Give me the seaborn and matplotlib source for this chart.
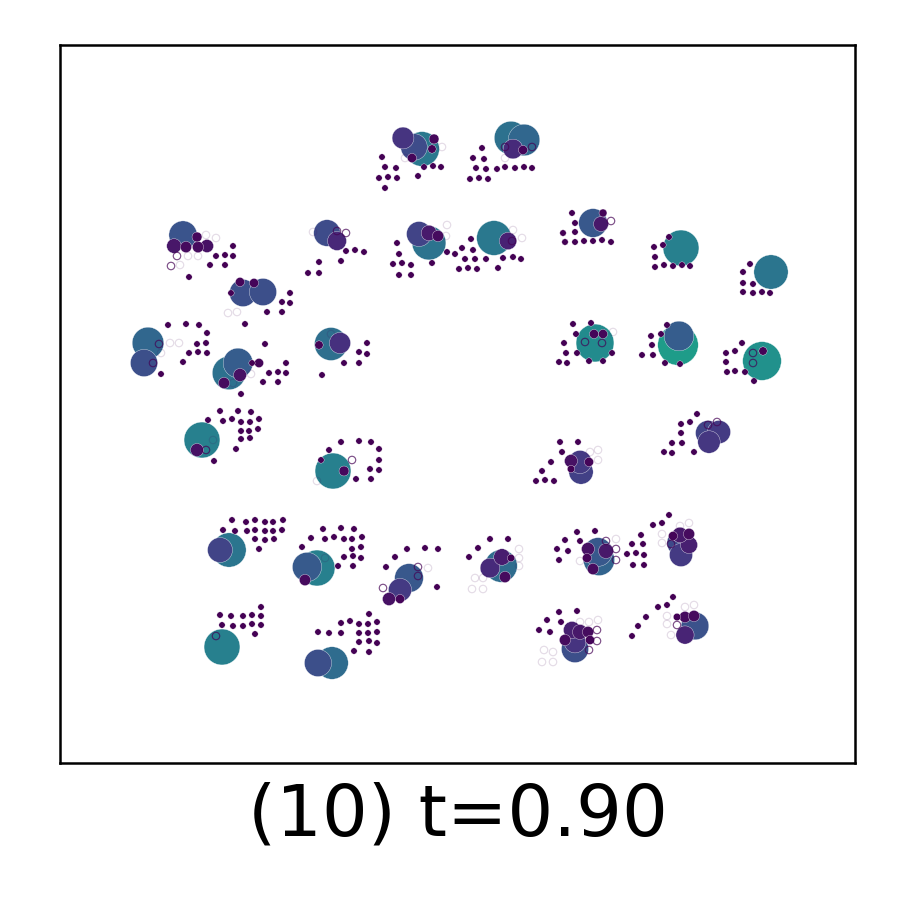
import numpy as np
import pandas as pd
import matplotlib
matplotlib.use("Agg")
import matplotlib.pyplot as plt
import seaborn as sns

# weighted particles (x, y in picture pixels, v = weight -> colour and size)
big_x = [183, 174, 186, 197, 198, 207,   243, 263, 240, 254,   327, 337,
         403, 422, 414, 434, 432, 412,   511, 524, 513, 523,   419, 429, 429, 438,
         494, 508,   593, 601, 603,   681,   771,   148, 144,
         229, 238, 224, 240, 259,   331, 340, 319,   202, 197,   333, 344,
         595, 594, 603,   678, 679,   762, 763,
         580, 581, 571, 589, 571,   708, 719, 709,   220, 229,   307, 317, 305,
         409, 400, 389, 400,   222,   318, 332,
         501, 490, 502, 505, 511,   598, 599, 588, 606, 587, 593,
         680, 689, 689, 673, 680, 681,   575, 572, 580, 588, 565, 590, 575,
         695, 685, 685, 694, 677]
big_y = [235, 246, 247, 237, 247, 246,   293, 292, 282, 283,   233, 241,
         138, 149, 147, 139, 149, 158,   138, 140, 149, 150,   234, 243, 233, 236,
         238, 241,   223, 224, 213,   248,   272,   343, 363,
         373, 363, 383, 375, 363,   344, 343, 345,   440, 450,   471, 471,
         343, 334, 334,   345, 336,   361, 351,
         462, 472, 461, 462, 469,   433, 432, 442,   550, 550,   567, 568, 580,
         578, 590, 599, 599,   647,   663, 663,
         566, 568, 557, 577, 558,   552, 560, 549, 551, 558, 569,
         535, 534, 545, 536, 543, 555,   649, 630, 632, 632, 640, 640, 642,
         626, 635, 617, 616, 617]
big_v = [.26, .06, .03, .02, .03, .045,   .24, .24, .015, .015,   .23, .11,
         .15, .40, .23, .02, .01, .015,   .37, .33, .12, .015,   .20, .38, .07, .03,
         .40, .09,   .27, .064, .008,   .43,   .39,   .33, .24,
         .37, .29, .03, .045, .015,   .36, .14, .01,   .43, .045,   .43, .02,
         .48, .015, .015,   .55, .29,   .50, .01,
         .17, .19, .045, .015, .005,   .20, .17, .16,   .20, .39,   .28, .43, .03,
         .27, .17, .045, .015,   .43,   .24, .35,
         .35, .12, .08, .03, .005,   .27, .32, .045, .064, .015, .03,
         .07, .03, .087, .015, .22, .17,   .24, .087, .064, .03, .03, .015, .15,
         .25, .10, .03, .03, .005]

# tiny particles (weight 0)
dot_x = [233, 216, 225, 233, 210, 225, 189,
         231, 290, 282, 290, 267, 282, 245,
         346, 319, 341, 308, 319, 355, 364,
         382, 385, 396, 379, 388, 397, 385, 424, 433, 441, 418,
         482, 473, 484, 476, 486, 497, 505, 515, 524, 532, 470, 479, 488,
         397, 399, 393, 402, 411, 399, 411, 432, 447, 455,
         471, 462, 473, 465, 475, 486, 503, 513, 521, 459, 468, 477, 498,
         572, 575, 563, 575, 565, 575, 584, 593, 602, 611, 563, 565,
         669, 663, 654, 655, 655, 664, 673, 682, 690,
         750, 743, 743, 753, 743, 753, 762, 770,
         168, 186, 199, 207, 197, 206, 189, 198, 207, 183, 161,
         252, 265, 286, 269, 278, 286, 263, 278, 241,
         367, 359, 367, 344, 359, 322,
         220, 238, 251, 208, 223, 232, 241, 250, 259, 241, 249, 258, 241, 250, 236, 214,
         341, 359, 371, 329, 379, 321, 379, 370, 379, 356, 371,
         573, 591, 576, 564, 566, 577, 559, 567, 589, 603, 612,
         667, 651, 661, 652, 642, 653, 665, 680,
         742, 726, 735, 726, 727, 735, 745, 754,
         560, 578, 562, 551, 542, 536, 545, 554,
         697, 681, 690, 681, 672, 682, 664, 672, 694,
         232, 246, 255, 265, 273, 283, 223, 235, 247, 255, 265, 273, 282, 255, 265, 274, 259,
         323, 341, 354, 311, 325, 334, 344, 352, 362, 302, 352, 361, 344, 353, 361, 338, 353,
         407, 425, 438, 395, 386, 437,
         261, 220, 231, 243, 252, 261, 222, 233, 243, 252, 261, 255,
         369, 341, 350, 359, 368, 377, 318, 329, 341, 359, 368, 377, 359, 369, 377, 354, 369,
         490, 508, 478, 469,
         577, 595, 565, 580, 557, 568, 559, 641, 632, 643, 627, 636, 644, 633, 644,
         669, 653, 662,
         559, 577, 547, 561, 539, 550,
         673, 658, 667, 646, 638, 632]
dot_y = [246, 256, 255, 256, 265, 265, 277,
         293, 293, 302, 303, 312, 312, 324,
         251, 262, 261, 273, 273, 250, 252,
         157, 167, 168, 178, 177, 178, 188, 167, 166, 167, 176,
         148, 158, 159, 168, 169, 169, 167, 168, 167, 168, 179, 178, 179,
         243, 254, 264, 263, 265, 275, 275, 263, 252, 254,
         239, 248, 250, 259, 259, 259, 258, 257, 259, 269, 268, 269, 268,
         213, 223, 233, 232, 242, 242, 241, 241, 240, 242, 233, 242,
         237, 245, 247, 257, 267, 265, 266, 265, 266,
         264, 272, 283, 284, 292, 293, 292, 293,
         325, 324, 325, 333, 344, 343, 353, 352, 353, 362, 374,
         363, 344, 363, 373, 372, 373, 382, 382, 394,
         343, 352, 354, 363, 363, 375,
         411, 411, 412, 420, 421, 419, 422, 422, 419, 431, 431, 429, 439, 438, 449, 461,
         442, 441, 442, 450, 449, 460, 460, 469, 470, 479, 479,
         324, 323, 334, 343, 353, 353, 362, 363, 361, 361, 353,
         325, 336, 334, 345, 355, 355, 363, 364,
         343, 353, 351, 362, 372, 371, 372, 381,
         442, 442, 452, 462, 471, 481, 480, 481,
         414, 424, 422, 433, 443, 443, 452, 453, 452,
         520, 522, 520, 522, 522, 520, 530, 531, 531, 530, 531, 531, 530, 539, 540, 539, 549,
         529, 528, 529, 538, 539, 537, 539, 539, 537, 547, 549, 547, 557, 556, 558, 566, 566,
         549, 548, 549, 557, 567, 587,
         607, 615, 616, 616, 615, 616, 625, 626, 626, 624, 625, 634,
         614, 623, 621, 624, 624, 622, 632, 633, 633, 633, 633, 632, 642, 641, 643, 651, 652,
         539, 539, 548, 557,
         532, 531, 540, 541, 549, 551, 560, 535, 544, 544, 554, 553, 555, 565, 565,
         515, 525, 523,
         612, 611, 620, 622, 630, 632,
         597, 607, 605, 617, 626, 636]

# empty rings (1 = dark outline, 0 = faint outline)
ring_x = [177, 171, 188, 198, 206, 216, 180,   228, 237,   337, 346, 313,
          442, 405,   505, 532, 505,   447, 446,   512, 513, 522,   611,
          159, 153, 170, 179, 161,   233, 251,   331,   206, 213,   352, 317,
          585, 602, 613,   753, 753,   590, 598, 598,   708, 717,   325,
          418, 418, 383, 428,   216,
          519, 519, 519, 483, 475, 472, 483,   606, 616, 616, 616, 580,
          671, 680, 689, 662, 662,
          597, 597, 589, 598, 589, 580, 544, 553, 542, 553,
          677, 685, 694, 667, 667, 671]
ring_y = [256, 266, 256, 256, 235, 238, 265,   313, 312,   231, 233, 232,
          147, 158,   147, 147, 158,   225, 236,   241, 230, 238,   221,
          344, 363, 343, 343, 353,   383, 374,   334,   450, 440,   460, 481,
          342, 343, 332,   353, 363,   452, 450, 460,   425, 422,   558,
          567, 576, 588, 568,   636,
          549, 558, 566, 578, 578, 589, 589,   541, 549, 560, 539, 561,
          544, 526, 523, 534, 543,
          630, 641, 650, 620, 622, 622, 650, 652, 662, 662,
          625, 607, 605, 616, 624, 635]
ring_dark = [1, 1, 0, 0, 0, 0, 0,   0, 0,   1, 1, 0,
             0, 0,   1, 1, 0,   0, 0,   1, 0, 0,   1,
             1, 1, 0, 0, 0,   0, 0,   0,   1, 0,   1, 0,
             1, 1, 0,   1, 1,   0, 0, 0,   1, 1,   0,
             1, 1, 1, 0,   1,
             0, 0, 0, 0, 0, 0, 0,   1, 1, 1, 0, 0,
             1, 0, 0, 0, 0,
             1, 1, 1, 0, 0, 0, 0, 0, 0, 0,
             1, 0, 0, 0, 0, 0]

pts = pd.concat([
    pd.DataFrame({"x": big_x, "y": big_y, "v": big_v}),
    pd.DataFrame({"x": dot_x, "y": dot_y, "v": 0.0}),
], ignore_index=True)
pts = pts.sort_values("v", ascending=False, kind="stable")
rings = pd.DataFrame({"x": ring_x, "y": ring_y, "dark": ring_dark})

fig = plt.figure(figsize=(3, 3), dpi=300)
ax = fig.add_axes([60 / 900, 137 / 900, 795 / 900, 718 / 900])

sns.scatterplot(data=pts, x="x", y="y", hue="v", size="v", palette="viridis",
                hue_norm=(0, 1), sizes=(2.3, 96), size_norm=(0, 0.56),
                edgecolor="white", linewidth=0.08, legend=False, ax=ax)

# outlined particles
for dark, alpha in [(0, 0.14), (1, 0.7)]:
    sub = rings[rings["dark"] == dark]
    sns.scatterplot(data=sub, x="x", y="y", s=3.2, facecolor="none",
                    edgecolor="#440154", linewidth=0.28, alpha=alpha,
                    legend=False, ax=ax)

ax.set_xlim(60, 855)
ax.set_ylim(763, 45)
ax.set_xticks([])
ax.set_yticks([])
ax.set_ylabel("")
ax.set_xlabel("(10) t=0.90", fontsize=17.3, labelpad=4.5)
for sp in ax.spines.values():
    sp.set_linewidth(0.6)
    sp.set_color("black")

fig.savefig("out.png", dpi=300)
